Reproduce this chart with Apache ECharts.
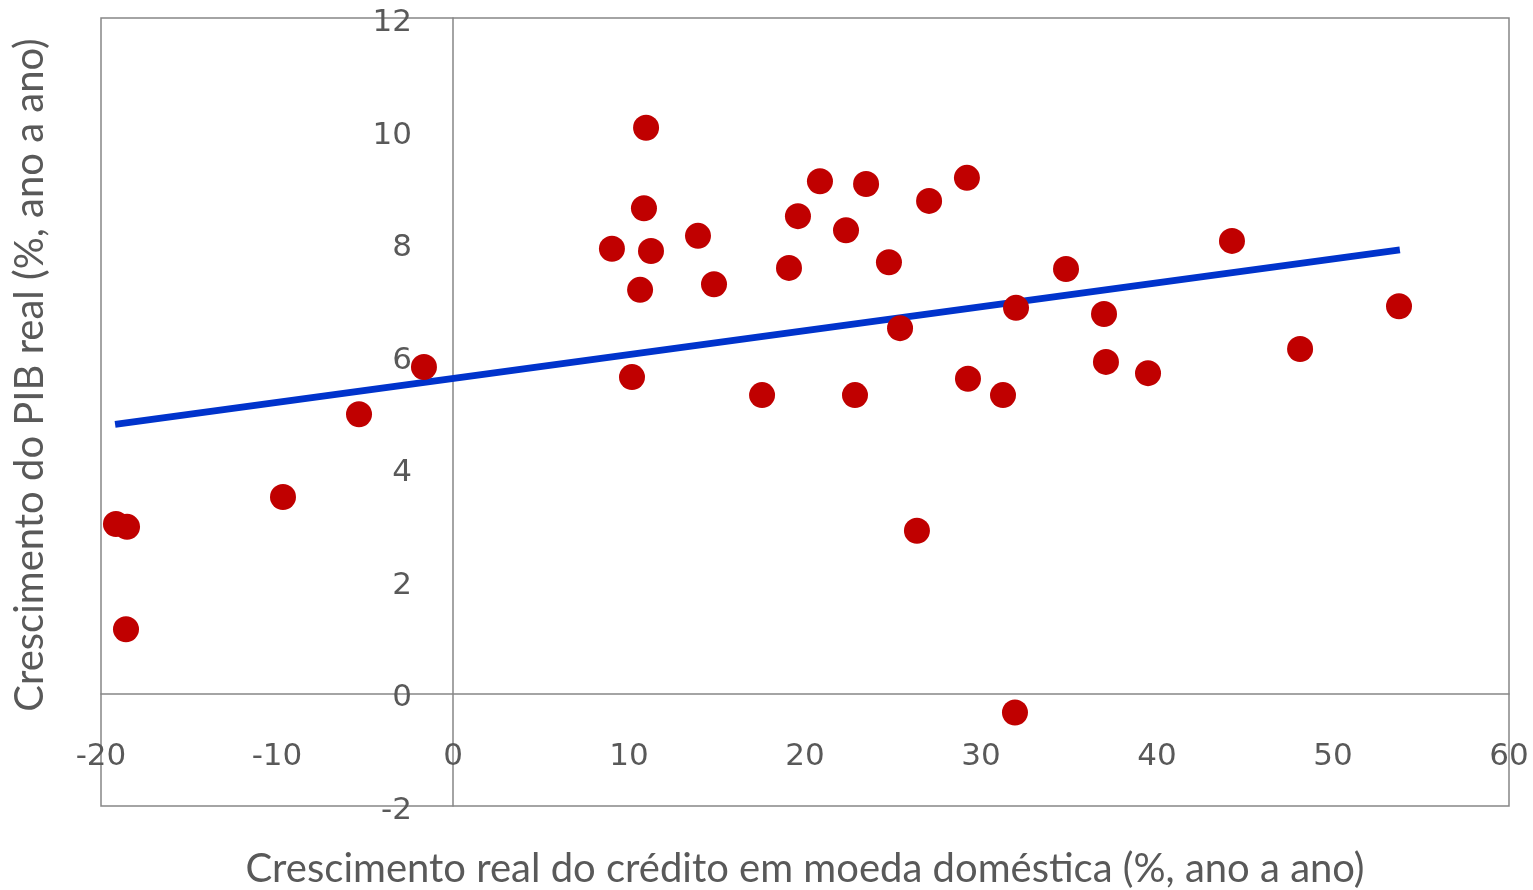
<!DOCTYPE html>
<html>
<head>
<meta charset="utf-8">
<script src="https://cdn.jsdelivr.net/npm/echarts@6/dist/echarts.min.js"></script>
<style>
html,body{margin:0;padding:0;background:#fff;}
#chart{width:1533px;height:890px;}
</style>
</head>
<body>
<div id="chart"></div>
<script>
// Data
const creditGrowth = [-19.15, -18.52, -18.58, -9.66, -5.34, -1.65, 9.03, 10.63, 10.17, 10.85, 10.97, 11.25, 13.92, 14.83, 17.56, 19.09, 19.60, 20.85, 22.33, 22.84, 23.47, 24.77, 25.40, 26.36, 27.05, 29.20, 29.26, 31.25, 31.99, 31.93, 34.83, 36.99, 37.10, 39.49, 44.26, 48.13, 53.75];
const gdpGrowth = [3.01, 2.96, 1.14, 3.49, 4.96, 5.80, 7.90, 7.17, 5.62, 8.62, 10.05, 7.86, 8.13, 7.27, 5.30, 7.56, 8.48, 9.10, 8.23, 5.30, 9.05, 7.66, 6.49, 2.89, 8.75, 9.16, 5.59, 5.30, 6.85, -0.34, 7.54, 6.74, 5.89, 5.69, 8.04, 6.12, 6.88];
const trendX = [-19.2, 53.8];
const trendY = [4.78, 7.88];
const xTitle = 'Crescimento real do crédito em moeda doméstica (%, ano a ano)';
const yTitle = 'Crescimento do PIB real (%, ano a ano)';

const points = creditGrowth.map((x, i) => [x, gdpGrowth[i]]);
const trend = trendX.map((x, i) => [x, trendY[i]]);

const chart = echarts.init(document.getElementById('chart'));
const grey = '#868686';
const txt = '#595959';
// grid geometry
const G = {left: 101, top: 18, width: 1408, height: 788};
const xMin = -20, xMax = 60, yMin = -2, yMax = 12;
// shift axes so that they (line + labels) sit at the zero crossing
const yAxisShift = -G.width * (0 - xMin) / (xMax - xMin);
const xAxisShift = -G.height * (0 - yMin) / (yMax - yMin);
chart.setOption({
  animation: false,
  grid: Object.assign({show: true, borderColor: grey, borderWidth: 1.5, containLabel: false, outerBoundsMode: 'none'}, G),
  xAxis: {
    type: 'value', min: xMin, max: xMax, interval: 10, offset: xAxisShift,
    axisLine: {onZero: false, lineStyle: {color: grey, width: 1.5}},
    axisTick: {show: false}, splitLine: {show: false},
    axisLabel: {color: txt, fontFamily: 'DejaVu Sans', fontSize: 31, margin: 48, showMinLabel: true, showMaxLabel: true, hideOverlap: false}
  },
  yAxis: {
    type: 'value', min: yMin, max: yMax, interval: 2, offset: yAxisShift,
    axisLine: {onZero: false, lineStyle: {color: grey, width: 1.5}},
    axisTick: {show: false}, splitLine: {show: false},
    axisLabel: {color: txt, fontFamily: 'DejaVu Sans', fontSize: 31, margin: 41, verticalAlign: 'top', lineHeight: 10, showMinLabel: true, showMaxLabel: true, hideOverlap: false}
  },
  graphic: [
    {type: 'text', x: 805, y: 849, style: {text: xTitle, fill: txt, font: '40px Lato', align: 'center', verticalAlign: 'top'}},
    {type: 'text', rotation: Math.PI/2, x: 10, y: 375, style: {text: yTitle, fill: txt, font: '40px Lato', align: 'center', verticalAlign: 'top'}}
  ],
  series: [
    {type: 'line', data: trend, symbol: 'none', lineStyle: {color: '#0033CC', width: 7}, z: 2},
    {type: 'scatter', data: points, symbolSize: 26, itemStyle: {color: '#C00000', opacity: 1}, z: 3}
  ]
});
</script>
</body>
</html>
